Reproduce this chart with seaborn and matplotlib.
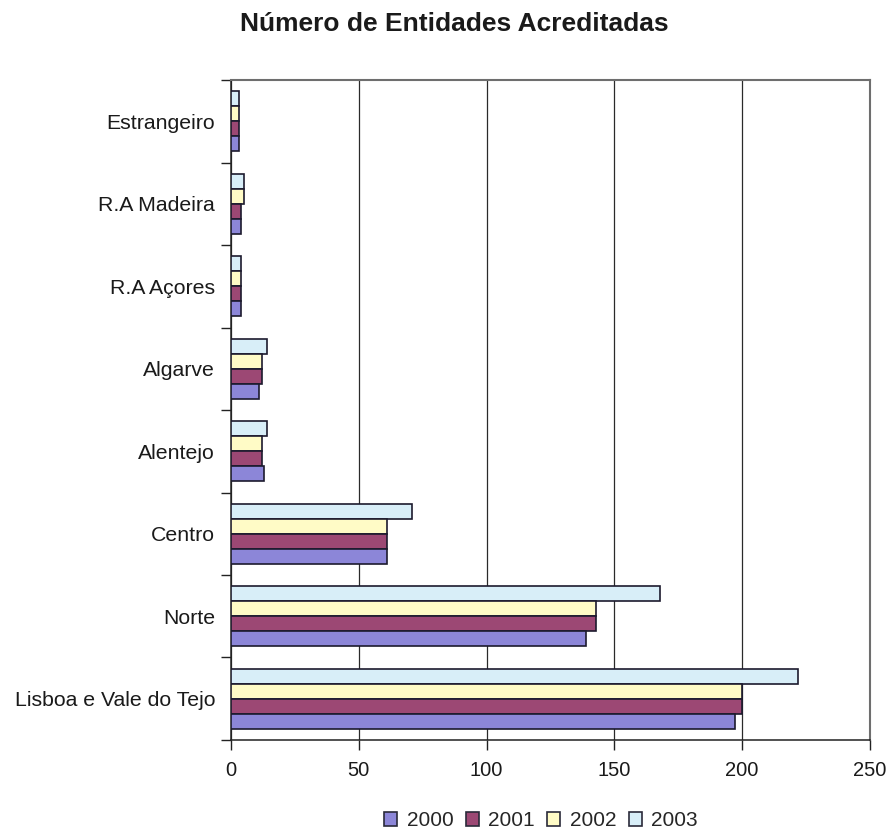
import matplotlib
matplotlib.use("Agg")
import matplotlib.pyplot as plt
from matplotlib.patches import Patch
from matplotlib.ticker import FixedLocator, NullFormatter
import seaborn as sns
import pandas as pd

# Regions, top to bottom
regions = ["Estrangeiro", "R.A Madeira", "R.A Açores", "Algarve",
           "Alentejo", "Centro", "Norte", "Lisboa e Vale do Tejo"]
years = ["2000", "2001", "2002", "2003"]
v2000 = [3, 4, 4, 11, 13, 61, 139, 197]
v2001 = [3, 4, 4, 12, 12, 61, 143, 200]
v2002 = [3, 5, 4, 12, 12, 61, 143, 200]
v2003 = [3, 5, 4, 14, 14, 71, 168, 222]
x_ticks = [0, 50, 100, 150, 200, 250]

colors = {"2000": "#8C86D8", "2001": "#9C4874",
          "2002": "#FFFBC6", "2003": "#D8EEF8"}

rows = []
for yr, vals in zip(years, [v2000, v2001, v2002, v2003]):
    for reg, v in zip(regions, vals):
        rows.append({"Região": reg, "Ano": yr, "Entidades": v})
df = pd.DataFrame(rows)

sns.set_theme(style="white")
plt.rcParams["font.family"] = ["Liberation Sans", "DejaVu Sans"]

fig = plt.figure(figsize=(8.87, 8.32), dpi=100)
ax = fig.add_axes([0.2604, 0.1106, 0.9808 - 0.2604, 0.9038 - 0.1106])

# 2003 on top of each group, 2000 at the bottom
hue_order = years[::-1]
sns.barplot(data=df, y="Região", x="Entidades", hue="Ano",
            order=regions, hue_order=hue_order,
            palette=colors, orient="h", width=0.73,
            edgecolor="#1c1a2e", linewidth=1.2, saturation=1,
            legend=False, ax=ax, zorder=3)

ax.set_xlim(0, 250)
ax.set_ylim(len(regions) - 0.5, -0.5)
ax.set_xlabel("")
ax.set_ylabel("")

ax.set_xticks(x_ticks)
ax.set_xticklabels([str(t) for t in x_ticks])
ax.tick_params(axis="x", which="major", direction="out", length=7,
               width=1, color="#222222", pad=8, labelsize=14.5,
               bottom=True)

# category labels without ticks; ticks at the group boundaries
ax.tick_params(axis="y", which="major", length=0, pad=11.5, labelsize=15.3,
               left=True)
ax.yaxis.set_minor_locator(FixedLocator([i - 0.5 for i in range(len(regions) + 1)]))
ax.yaxis.set_minor_formatter(NullFormatter())
ax.tick_params(axis="y", which="minor", direction="out", length=7,
               width=1, color="#222222", left=True)

for lbl in ax.get_xticklabels() + ax.get_yticklabels():
    lbl.set_color("#1a1a1a")

ax.grid(axis="x", color="#2a2a2a", linewidth=0.9, zorder=0)
ax.grid(axis="y", visible=False)

for side in ["left", "bottom"]:
    ax.spines[side].set_color("#222222")
    ax.spines[side].set_linewidth(1.1)
for side in ["top", "right"]:
    ax.spines[side].set_color("#6e6e6e")
    ax.spines[side].set_linewidth(1.5)
ax.set_facecolor("white")

fig.text(0.512, 1 - 24 / 832, "Número de Entidades Acreditadas",
         ha="center", va="center", fontsize=19, fontweight="bold",
         color="#1a1a1a")

handles = [Patch(facecolor=colors[y], edgecolor="#2a2a3a", linewidth=1.2)
           for y in years]
fig.legend(handles, years, loc="center", bbox_to_anchor=(0.61, 1 - 821 / 832),
           ncol=4, frameon=False, fontsize=15, handlelength=0.62,
           handleheight=0.62, handletextpad=0.45, columnspacing=0.6,
           borderaxespad=0)

fig.savefig("out.png", dpi=100, facecolor="white")
